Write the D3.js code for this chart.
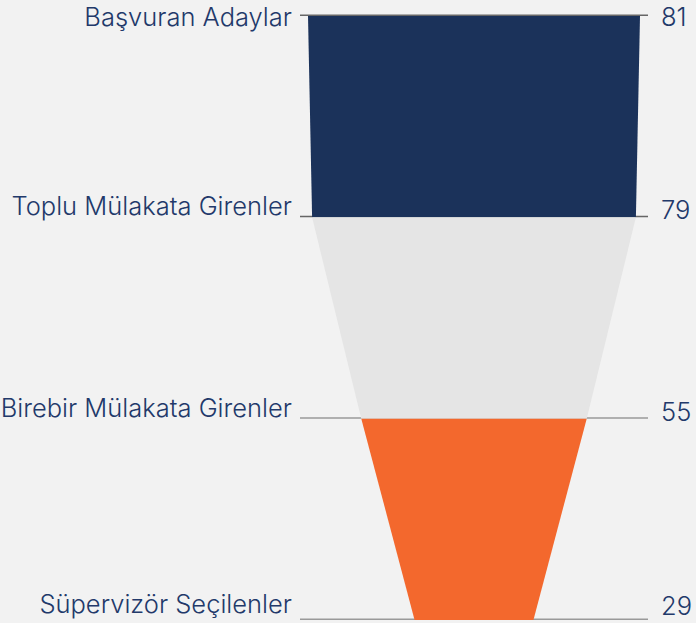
<!DOCTYPE html>
<html>
<head>
<meta charset="utf-8">
<script src="https://cdn.jsdelivr.net/npm/d3@7"></script>
<style>
  html, body { margin: 0; padding: 0; background: #f2f2f2; }
  svg { display: block; }
  .funnel-label, .funnel-value {
    font-family: Inter, "Noto Sans", sans-serif;
    font-weight: 300;
    font-size: 25.5px;
    fill: #22396a;
  }
</style>
</head>
<body>
<div id="chart"></div>
<script>
// funnel stages, top to bottom
const stages = [
  "Başvuran Adaylar",
  "Toplu Mülakata Girenler",
  "Birebir Mülakata Girenler",
  "Süpervizör Seçilenler",
];
const counts = [81, 79, 55, 29];
const segmentColors = ["#1b325a", "#e5e5e5", "#f3682d"];

const width = 696;
const height = 623;

const svg = d3
  .select("#chart")
  .append("svg")
  .attr("width", width)
  .attr("height", height);

svg.append("rect").attr("width", width).attr("height", height).attr("fill", "#f2f2f2");

const y = d3.scalePoint().domain(d3.range(stages.length)).range([16, 620]);
const w = d3.scaleLinear().domain([0, d3.max(counts)]).range([0, 332]);
const cx = 474;

const lineX0 = 300;
const lineX1 = 648;

// level lines (sit under the funnel)
svg
  .append("g")
  .attr("class", "level-lines")
  .selectAll("line")
  .data(counts)
  .join("line")
  .attr("x1", lineX0)
  .attr("x2", lineX1)
  .attr("y1", (d, i) => y(i) - 0.75)
  .attr("y2", (d, i) => y(i) - 0.75)
  .attr("stroke", (d, i) => (i < 2 ? "#666" : "#9a9a9a"))
  .attr("stroke-width", 1.5);

// trapezoid segments between consecutive levels
const segments = d3.pairs(counts).map(([a, b], i) => ({ a, b, i }));

svg
  .append("g")
  .attr("class", "segments")
  .selectAll("path")
  .data(segments)
  .join("path")
  .attr("fill", (d) => segmentColors[d.i])
  .attr("d", (d) => {
    const y0 = y(d.i);
    const y1 = y(d.i + 1);
    return d3.line()([
      [cx - w(d.a) / 2, y0],
      [cx + w(d.a) / 2, y0],
      [cx + w(d.b) / 2, y1],
      [cx - w(d.b) / 2, y1],
    ]) + "Z";
  });

// keep text inside the picture at the top and bottom
const clampY = (v) => Math.min(Math.max(v, 26), 615);

// stage labels on the left
svg
  .append("g")
  .selectAll("text")
  .data(stages)
  .join("text")
  .attr("class", "funnel-label")
  .attr("text-anchor", "end")
  .attr("x", 292)
  .attr("y", (d, i) => Math.min(clampY(y(i) - 2), 613))
  .text((d) => d);

// values on the right
svg
  .append("g")
  .selectAll("text")
  .data(counts)
  .join("text")
  .attr("class", "funnel-value")
  .attr("x", 661)
  .attr("y", (d, i) => clampY(y(i) + 2))
  .text((d) => d);
</script>
</body>
</html>
